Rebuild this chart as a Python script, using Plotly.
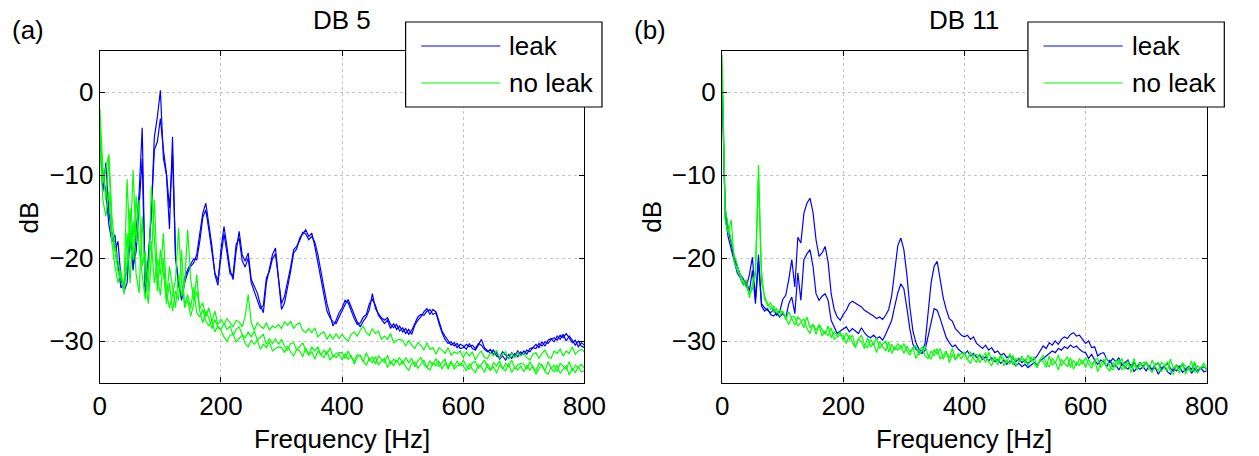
import plotly.graph_objects as go

# frequency bins [Hz], 5 Hz spacing
freq = list(range(0, 801, 5))

# ---- DB 5 : leak spectra (dB) ----
leak_a_db5 = [
    -5, -12, -8.5, -14.5, -17, -19, -18, -22.5, -24, -23, -17.5, -21.5, -17, -12, -4.3, -23.5, -20, -14.5, -5.5, -3,
    0.2, -8, -10, -16.5, -5.4, -19.8, -23, -25.1, -23, -21.8, -21, -20.6, -19.6, -17, -14.6, -13.4, -15.8, -18.5, -22, -23.3,
    -19, -16.2, -18.7, -21.4, -22.6, -19.2, -16.8, -19.6, -20.4, -19.4, -22.6, -23.5, -24.2, -25.6, -26.6, -23, -21.2, -19.6, -18.8, -22.9,
    -26.2, -25.4, -23.6, -21.6, -19.4, -18.9, -17.6, -17.1, -16.6, -17.4, -17, -18.6, -20.6, -22.7, -24.5, -26.4, -27.2, -27.7, -27.9, -27.1,
    -26.2, -25.6, -25, -25.9, -27, -27.7, -28.3, -27.6, -27.1, -26.2, -24.3, -26.1, -26.7, -27.2, -27.5, -27.2, -28, -28.4, -28, -28.8,
    -28.4, -29.1, -28.6, -29.2, -28.1, -27.5, -27.1, -26.5, -26.1, -26.8, -26.2, -26.5, -27.6, -28.8, -29.4, -30, -30.5, -30.2, -30.8, -30.4,
    -30.6, -31, -30.3, -30.9, -31.1, -30.5, -29.8, -30.8, -31.2, -31.5, -31.1, -31.8, -32, -31.3, -31.7, -32.1, -31.4, -31.9, -31.2, -31.7,
    -31.2, -31.6, -30.9, -30.8, -30.4, -30.8, -30.1, -30.6, -29.9, -29.7, -30.1, -29.4, -29.8, -29.2, -30, -29.4, -29.9, -30.5, -30, -30.6,
    -30.8,
]
leak_b_db5 = [
    -6, -10, -12, -16, -18, -17.2, -21, -23.6, -22.9, -21.4, -17, -21, -19.2, -14, -8, -24.2, -21, -14.6, -7, -6,
    -3.2, -7, -9.8, -14, -7.5, -19.8, -23.2, -24.6, -22.4, -21.4, -20.8, -20.1, -20.2, -18, -15.1, -14.2, -16.6, -19.1, -21.8, -22.7,
    -20, -17.1, -19.4, -21.9, -22.1, -18.4, -17.6, -20.3, -21.1, -20, -23, -24.1, -25, -26.1, -25.7, -22.4, -21.6, -20.1, -19.5, -22.6,
    -25.5, -24.6, -23, -21.1, -19, -18.6, -17.9, -16.9, -17.1, -17.8, -17.4, -18.1, -19.6, -21.4, -23.6, -25.5, -26.9, -28.2, -27.5, -26.6,
    -26, -25.1, -25.4, -26.4, -27.3, -28, -27.8, -27.1, -26.8, -25.5, -25, -25.7, -26.9, -27.4, -27.9, -27.5, -28.5, -27.9, -28.6, -28.2,
    -28.9, -28.5, -29.2, -28.7, -27.9, -27.1, -26.8, -26.9, -26.4, -26.2, -26.8, -26.6, -27.9, -29, -29.8, -30.3, -30.1, -30.6, -30.3, -30.9,
    -30.8, -30.4, -30.7, -30.5, -30.9, -30.3, -30.5, -31, -31.3, -31, -31.6, -31.4, -32.2, -31.8, -32.3, -31.6, -32.1, -31.5, -31.9, -31.3,
    -31.6, -31.1, -31.3, -30.8, -30.9, -30.3, -30.6, -30.1, -30.3, -29.8, -29.6, -29.9, -29.3, -29.6, -29.1, -29.7, -30.2, -29.9, -30.7, -30.2,
    -30.5,
]

# ---- DB 5 : no leak spectra (dB) ----
noleak_a_db5 = [
    -2, -9, -13, -8, -17, -19.5, -21.6, -22.4, -23.1, -10.5, -19, -9.4, -18.2, -13, -21, -19.2, -24, -11.4, -17, -24,
    -19, -22.1, -25, -21, -23.6, -26, -22, -24.6, -23.1, -16.6, -22.5, -25.1, -24, -26.1, -25.4, -27.1, -26, -27.6, -26.4, -28,
    -27.4, -28, -27.3, -27.8, -28.3, -27.5, -27.7, -28.3, -27, -24.4, -27.8, -28.7, -27.8, -28.2, -28.5, -27.8, -28.7, -28.2, -28.4, -28,
    -28.5, -27.7, -28.1, -27.6, -28.5, -28, -27.8, -28.7, -29, -28.5, -29, -28.4, -29.5, -29.1, -28.9, -29.8, -29.2, -29.8, -29.1, -29.7,
    -29.2, -29.7, -30, -29.2, -28.9, -29.4, -28.7, -28.2, -29, -29.3, -28.5, -29.1, -28.8, -29.8, -29.4, -29.8, -29.1, -30.2, -29.9, -29.8,
    -29.9, -30.6, -29.9, -30.5, -30.9, -30.2, -30.5, -31.1, -30.2, -31, -30.8, -31.6, -30.8, -31.1, -31.5, -30.8, -31.7, -31.3, -31.5, -31.2,
    -32, -31.3, -31.8, -31.3, -32.3, -31.6, -31.2, -32, -32.1, -31.4, -31.8, -31.1, -32.1, -31.6, -31.3, -32.2, -31.5, -32, -31.4, -31.8,
    -31.5, -32, -32.3, -31.6, -31.4, -32.1, -31.5, -31.1, -31.9, -32.1, -31.2, -31.5, -31, -31.8, -31.2, -31.5, -30.7, -31.6, -31.2, -31,
    -31.3,
]
noleak_b_db5 = [
    -4, -11, -9.2, -7.5, -15, -18.6, -20.4, -22.1, -24, -21, -14, -20.2, -12.5, -19, -22.2, -25, -21, -18, -23, -20.1,
    -22, -17, -24.2, -26, -24.5, -22.6, -16.4, -23, -25.6, -24.4, -26.1, -23.5, -26.6, -27.1, -26.2, -27.6, -28.2, -27.5, -28.9, -28.2,
    -28.7, -29.5, -30, -29.3, -29.2, -30.1, -29.7, -29.3, -30.3, -30.7, -29.9, -30.4, -29.9, -31, -30.4, -30.8, -30.1, -31.2, -30.9, -30.7,
    -30.8, -31.4, -30.6, -31.3, -31.8, -31, -31.2, -31.9, -30.8, -31.7, -31.3, -32.2, -31.2, -31.7, -32, -31.2, -32.3, -31.7, -32, -31.6,
    -32.3, -31.5, -32.2, -31.7, -32.8, -32, -31.7, -32.5, -32.9, -32.1, -32.6, -31.9, -32.9, -32.4, -32.1, -33.2, -32.4, -33, -32.3, -32.9,
    -32.4, -33.1, -33.5, -32.7, -32.5, -33.3, -32.8, -32.3, -33.2, -33.5, -32.6, -33, -32.4, -33.4, -32.7, -33.1, -32.4, -33.4, -33, -32.8,
    -33, -33.6, -32.7, -33.4, -33.8, -32.9, -33.1, -33.8, -32.7, -33.5, -33.1, -33.9, -32.9, -33.3, -33.6, -32.7, -33.8, -33.2, -33.5, -33,
    -33.7, -32.9, -33.5, -33, -34, -33.3, -32.9, -33.7, -34, -33.2, -33.7, -32.9, -33.9, -33.4, -33, -34.1, -33.3, -33.8, -33.1, -33.7,
    -33.6,
]
noleak_c_db5 = [
    -6, -13, -15, -12, -18.2, -21, -23, -21.5, -24.4, -17, -23, -15.5, -22, -24.2, -15, -22.5, -25.5, -20, -13, -22,
    -24.5, -20, -25.6, -23, -26.4, -24, -25.1, -19, -26, -25, -27, -25.6, -22, -26.4, -27.8, -26.4, -27.2, -28.5, -27.4, -28.4,
    -28.6, -27.9, -28.6, -28.2, -29.3, -28.6, -28.3, -29.2, -29.6, -28.9, -29.5, -28.8, -29.9, -29.5, -29.2, -30.4, -29.7, -30.3, -29.7, -30.4,
    -29.8, -30.6, -31.1, -30.3, -30.2, -31.1, -30.7, -30.2, -31.2, -31.6, -30.7, -31.2, -30.7, -31.7, -31.1, -31.6, -30.8, -31.9, -31.5, -31.4,
    -31.4, -32.1, -31.2, -32, -32.4, -31.6, -31.8, -32.5, -31.4, -32.3, -31.9, -32.8, -31.8, -32.2, -32.6, -31.7, -32.8, -32.2, -32.5, -32,
    -32.8, -32, -32.6, -32.1, -33.1, -32.4, -32, -32.8, -33.2, -32.4, -32.9, -32.1, -33.1, -32.6, -32.2, -33.4, -32.6, -33.1, -32.4, -33,
    -32.3, -33, -33.4, -32.6, -32.5, -33.3, -32.8, -32.3, -33.2, -33.5, -32.6, -33, -32.4, -33.4, -32.7, -33.1, -32.3, -33.3, -32.9, -32.7,
    -32.8, -33.4, -32.5, -33.2, -33.6, -32.7, -32.9, -33.6, -32.5, -33.3, -32.9, -33.7, -32.7, -33.1, -33.4, -32.5, -33.6, -32.9, -33.2, -32.8,
    -33.3,
]

# ---- DB 11 : leak spectra (dB) ----
leak_a_db11 = [
    1.5, -14, -16.5, -18.5, -20, -21, -22, -22.5, -23.5, -22, -19.9, -25, -19.6, -25.5, -26, -26.3, -26.6, -26.2, -26.9, -26.5,
    -25, -24.5, -22.6, -20.2, -23.5, -17.5, -18.2, -14.6, -13.4, -12.8, -14.5, -17.8, -19.8, -19.4, -18.6, -20.5, -24.3, -26.2, -27.1, -27.5,
    -26.8, -26.3, -25.5, -25.2, -25.4, -25.6, -25.9, -26.3, -26.5, -26.8, -27, -27.3, -27.1, -27.4, -26.9, -26.2, -24.5, -21.5, -18.5, -17.6,
    -19, -22, -26, -28.8, -30.2, -31, -31.3, -30.3, -26.5, -23, -21, -20.4, -22.6, -24.8, -26.2, -27.3, -27.6, -28.5, -28.9, -29.3,
    -29.5, -29.3, -29.8, -29.5, -30.3, -30.6, -30.9, -30.5, -31.1, -30.8, -31.4, -31.2, -31.7, -31.5, -32, -31.8, -32.2, -32.5, -32.1, -32.6,
    -32.3, -32.7, -32.4, -32.2, -31.8, -31.2, -30.6, -30.9, -30.2, -30.5, -30, -30.4, -29.8, -29.5, -29.7, -29.2, -29, -29.4, -29.3, -29.8,
    -30.3, -30, -30.8, -30.7, -31.8, -31.5, -31.4, -32.2, -32.6, -32.1, -32.5, -32, -32.9, -32.6, -32.3, -33.2, -32.6, -33.1, -32.6, -33.1,
    -32.6, -33.1, -33.4, -32.8, -32.7, -33.3, -33, -32.7, -33.3, -33.6, -32.9, -33.2, -32.8, -33.6, -33.1, -33.4, -32.7, -33.6, -33.3, -33.1,
    -33.4,
]
leak_b_db11 = [
    1, -15, -17.5, -19, -20.5, -21.8, -22.4, -23.2, -22.8, -24, -21.5, -25.5, -20.5, -25.8, -26.4, -26.1, -26.8, -27, -26.6, -27.1,
    -26.7, -27.2, -25.5, -24.7, -26.7, -21.8, -25.1, -20.2, -19.5, -19, -21, -24.3, -25.1, -24.6, -24.3, -25.1, -27.5, -28.4, -29.1, -28.8,
    -28.6, -28.3, -28.9, -28.5, -28.8, -29.1, -28.4, -29, -29.4, -29.6, -29.3, -29.7, -29.5, -29.9, -29.2, -28.4, -27.5, -25.8, -24.2, -23.1,
    -23.7, -26, -28.6, -30.4, -31, -31.3, -31.5, -31.1, -29.6, -27.8, -26.1, -26.3, -27.3, -28.6, -29.6, -30.2, -30.7, -30.5, -31, -31.3,
    -31.6, -31.2, -31.8, -31.5, -32, -31.7, -32.2, -31.9, -32.4, -32, -32.5, -32.2, -32.7, -32.3, -32.8, -32.4, -32.6, -33, -32.7, -33.1,
    -32.8, -33.2, -32.9, -32.6, -32.9, -32.4, -32.1, -31.8, -31.5, -31.2, -31.4, -30.9, -31.1, -30.7, -30.9, -30.5, -30.8, -30.6, -31, -31.3,
    -31.4, -32.1, -31.6, -32.3, -32.8, -32.3, -32.5, -33.1, -32.3, -33.1, -32.9, -33.5, -32.8, -33.1, -33.4, -32.8, -33.7, -33.2, -33.4, -33.1,
    -33.6, -33, -33.5, -33.2, -34, -33.4, -33.1, -33.7, -34, -33.3, -33.6, -33, -33.8, -33.4, -33.1, -33.9, -33.3, -33.8, -33.2, -33.7,
    -33.6,
]

# ---- DB 11 : no leak spectra (dB) ----
noleak_a_db11 = [
    4.5, -15.5, -17, -15.4, -20.5, -21.5, -22, -22.8, -23.5, -24.3, -23.8, -22, -8.8, -21.5, -25, -25.4, -26.2, -25.8, -26.6, -26.3,
    -26.5, -27.4, -26.5, -27.4, -28.1, -27.1, -27.5, -28.4, -27.1, -28.4, -28, -29.2, -28, -28.6, -29.2, -28.2, -29.6, -28.9, -29.4, -28.9,
    -29.9, -29, -29.8, -29.3, -30.7, -29.8, -29.3, -30.4, -30.8, -29.8, -30.5, -29.6, -30.9, -30.4, -30, -31.3, -30.4, -31.1, -30.3, -31,
    -30.3, -31.2, -31.7, -30.8, -30.6, -31.7, -31.1, -30.6, -31.7, -32.2, -31, -31.6, -30.9, -32.2, -31.4, -32, -30.9, -32.2, -31.8, -31.5,
    -31.5, -32.3, -31.3, -32.1, -32.6, -31.6, -31.9, -32.6, -31.3, -32.4, -31.9, -32.9, -31.7, -32.2, -32.6, -31.5, -32.9, -32.1, -32.4, -31.8,
    -32.7, -31.7, -32.4, -31.9, -33.2, -32.2, -31.7, -32.7, -33.1, -32.1, -32.7, -31.7, -33, -32.4, -31.9, -33.2, -32.3, -33, -32.1, -32.8,
    -32, -32.8, -33.3, -32.3, -32.1, -33.2, -32.6, -32, -33.1, -33.5, -32.3, -32.8, -32.1, -33.4, -32.7, -33.2, -32.1, -33.4, -32.9, -32.6,
    -32.6, -33.4, -32.3, -33.1, -33.6, -32.6, -32.9, -33.6, -32.2, -33.3, -32.9, -33.9, -32.6, -33.1, -33.5, -32.4, -33.8, -33, -33.3, -32.7,
    -33.2,
]
noleak_b_db11 = [
    3, -14, -16.2, -18, -19.6, -20.8, -22.4, -23.3, -22.6, -24.8, -23.2, -21.5, -10.5, -23, -24.5, -25.8, -25.4, -26.5, -26.1, -27,
    -26.4, -27.3, -28, -27.1, -27.1, -28.2, -27.7, -27.3, -28.5, -29.1, -28, -28.7, -28.1, -29.4, -28.8, -29.4, -28.4, -29.8, -29.5, -29.3,
    -29.4, -30.3, -29.3, -30.2, -30.8, -29.8, -30.1, -30.9, -29.6, -30.7, -30.3, -31.4, -30.1, -30.7, -31.2, -30.1, -31.5, -30.7, -31.1, -30.5,
    -31.5, -30.6, -31.3, -30.8, -32.1, -31.2, -30.7, -31.8, -32.1, -31.2, -31.8, -30.9, -32.2, -31.7, -31.2, -32.6, -31.6, -32.3, -31.5, -32.2,
    -31.4, -32.2, -32.7, -31.7, -31.6, -32.6, -32, -31.4, -32.5, -33, -31.9, -32.4, -31.7, -33, -32.3, -32.8, -31.7, -33, -32.5, -32.2,
    -32.2, -33, -31.9, -32.7, -33.2, -32.2, -32.5, -33.2, -31.8, -32.9, -32.5, -33.5, -32.2, -32.7, -33.1, -32, -33.4, -32.6, -32.9, -32.3,
    -33.2, -32.2, -32.9, -32.3, -33.7, -32.7, -32.2, -33.2, -33.6, -32.6, -33.2, -32.2, -33.5, -32.9, -32.4, -33.8, -32.7, -33.5, -32.6, -33.3,
    -32.5, -33.3, -33.8, -32.8, -32.6, -33.7, -33.1, -32.5, -33.6, -34, -32.9, -33.4, -32.7, -34, -33.2, -33.7, -32.5, -33.8, -33.3, -33,
    -33.5,
]

x_ticks = [0, 200, 400, 600, 800]
y_ticks = [-30, -20, -10, 0]

W, H = 1259, 456
FONT = 'Liberation Sans, Arial, sans-serif'
BLUE = '#0000ff'
GREEN = '#00ff00'


def px(x):
    return x / W


def py(y):
    return 1 - y / H


fig = go.Figure()

# blue first, green drawn on top
for xa, ya, leaks, noleaks in [('x', 'y', [leak_a_db5, leak_b_db5], [noleak_a_db5, noleak_b_db5, noleak_c_db5]),
                               ('x2', 'y2', [leak_a_db11, leak_b_db11], [noleak_a_db11, noleak_b_db11])]:
    for s in leaks:
        fig.add_trace(go.Scatter(x=freq, y=s, mode='lines', line=dict(color=BLUE, width=1.2),
                                 xaxis=xa, yaxis=ya, showlegend=False, hoverinfo='skip'))
    for s in noleaks:
        fig.add_trace(go.Scatter(x=freq, y=s, mode='lines', line=dict(color=GREEN, width=1.2),
                                 xaxis=xa, yaxis=ya, showlegend=False, hoverinfo='skip'))

axis_style = dict(
    showline=True, linecolor='black', linewidth=1.2, mirror='allticks',
    ticks='inside', ticklen=5, tickcolor='black', tickwidth=1,
    showgrid=True, gridcolor='#c4c4c4', griddash='dot', gridwidth=1,
    zeroline=False, tickfont=dict(family=FONT, size=26, color='black'),
)
ydom = [(H - 382.5) / H, (H - 50.5) / H]

fig.update_layout(
    width=W, height=H, autosize=False,
    margin=dict(l=0, r=0, t=0, b=0),
    paper_bgcolor='white', plot_bgcolor='white',
    showlegend=False,
    xaxis=dict(domain=[px(95), px(591)], range=[0, 800], tickvals=x_ticks, anchor='y', **axis_style),
    yaxis=dict(domain=ydom, range=[-35, 5], tickvals=y_ticks, anchor='x', **axis_style),
    xaxis2=dict(domain=[px(732), px(1228)], range=[0, 800], tickvals=x_ticks, anchor='y2', **axis_style),
    yaxis2=dict(domain=ydom, range=[-35, 5], tickvals=y_ticks, anchor='x2', **axis_style),
)

# titles, panel letters, axis labels and the hand drawn legends
annots = []
shapes = []
for off, title, letter in [(0, 'DB 5', '(a)'), (637, 'DB 11', '(b)')]:
    txt = dict(xref='paper', yref='paper', showarrow=False, font=dict(family=FONT, size=26, color='black'))
    annots.append(dict(text=title, x=px(343 + off), y=py(20), xanchor='center', yanchor='middle', **txt))
    annots.append(dict(text=letter, x=px(21.5 + off), y=py(30), xanchor='center', yanchor='middle', **txt))
    annots.append(dict(text='dB', x=px(23 + off), y=py(217), xanchor='center', yanchor='middle', textangle=-90, **txt))
    annots.append(dict(text='Frequency [Hz]', x=px(343 + off), y=py(439), xanchor='center', yanchor='middle', **txt))

    shapes.append(dict(type='rect', xref='paper', yref='paper', x0=px(408 + off), x1=px(609 + off),
                       y0=py(107), y1=py(22), line=dict(color='black', width=1.2), fillcolor='white', layer='above'))
    for yy, col, lab in [(46, BLUE, 'leak'), (83, GREEN, 'no leak')]:
        shapes.append(dict(type='line', xref='paper', yref='paper', x0=px(424 + off), x1=px(505 + off),
                           y0=py(yy), y1=py(yy), line=dict(color=col, width=1.2), layer='above'))
        annots.append(dict(text=lab, x=px(512 + off), y=py(yy), xanchor='left', yanchor='middle', **txt))

fig.update_layout(annotations=annots, shapes=shapes)

# no page margin, so the figure sits at the window's top-left corner
fig.write_html("out.html", config={'responsive': False, 'displayModeBar': False},
               post_script="document.body.style.margin='0';document.body.style.overflow='hidden';")
